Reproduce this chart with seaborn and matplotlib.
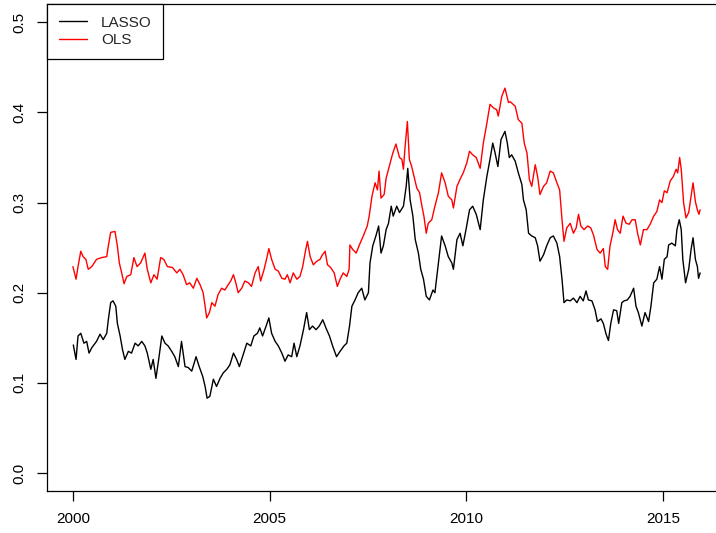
import matplotlib
matplotlib.use("Agg")
import matplotlib.pyplot as plt
import pandas as pd
import seaborn as sns

# Rolling estimates of the two models (decimal year, estimate)
lasso_year = [
    2000.01, 2000.08, 2000.13, 2000.20, 2000.28, 2000.35, 2000.41, 2000.48, 2000.60, 2000.69,
    2000.77, 2000.86, 2000.90, 2000.96, 2001.02, 2001.09, 2001.13, 2001.20, 2001.26, 2001.32,
    2001.41, 2001.49, 2001.58, 2001.66, 2001.75, 2001.83, 2001.89, 2001.98, 2002.04, 2002.11,
    2002.18, 2002.26, 2002.34, 2002.42, 2002.51, 2002.59, 2002.68, 2002.76, 2002.85, 2002.93,
    2003.02, 2003.13, 2003.21, 2003.30, 2003.36, 2003.41, 2003.48, 2003.57, 2003.65, 2003.74,
    2003.82, 2003.91, 2003.99, 2004.08, 2004.16, 2004.23, 2004.31, 2004.42, 2004.52, 2004.60,
    2004.69, 2004.75, 2004.82, 2004.91, 2004.98, 2005.05, 2005.14, 2005.22, 2005.31, 2005.39,
    2005.47, 2005.56, 2005.62, 2005.69, 2005.77, 2005.86, 2005.94, 2006.01, 2006.09, 2006.18,
    2006.26, 2006.35, 2006.43, 2006.52, 2006.60, 2006.70, 2006.79, 2006.89, 2006.96, 2007.03,
    2007.09, 2007.17, 2007.25, 2007.34, 2007.42, 2007.51, 2007.55, 2007.62, 2007.70, 2007.77,
    2007.83, 2007.89, 2007.96, 2008.02, 2008.09, 2008.14, 2008.23, 2008.30, 2008.40, 2008.47,
    2008.51, 2008.57, 2008.64, 2008.70, 2008.78, 2008.84, 2008.91, 2008.98, 2009.06, 2009.15,
    2009.20, 2009.29, 2009.37, 2009.46, 2009.54, 2009.63, 2009.67, 2009.76, 2009.84, 2009.91,
    2009.99, 2010.08, 2010.16, 2010.25, 2010.35, 2010.43, 2010.52, 2010.60, 2010.67, 2010.73,
    2010.80, 2010.88, 2010.98, 2011.04, 2011.09, 2011.15, 2011.24, 2011.32, 2011.41, 2011.45,
    2011.52, 2011.58, 2011.66, 2011.75, 2011.81, 2011.87, 2011.96, 2012.04, 2012.13, 2012.21,
    2012.30, 2012.37, 2012.43, 2012.48, 2012.55, 2012.64, 2012.72, 2012.81, 2012.89, 2012.97,
    2013.04, 2013.10, 2013.19, 2013.27, 2013.33, 2013.42, 2013.48, 2013.55, 2013.61, 2013.67,
    2013.74, 2013.82, 2013.87, 2013.95, 2014.01, 2014.09, 2014.16, 2014.25, 2014.31, 2014.37,
    2014.46, 2014.54, 2014.63, 2014.69, 2014.76, 2014.84, 2014.91, 2014.97, 2015.03, 2015.10,
    2015.14, 2015.22, 2015.31, 2015.35, 2015.41, 2015.46, 2015.50, 2015.57, 2015.65, 2015.71,
    2015.76, 2015.82, 2015.87, 2015.90, 2015.94,
]
lasso_value = [
    0.142, 0.126, 0.152, 0.155, 0.144, 0.146, 0.133, 0.139, 0.146, 0.154,
    0.148, 0.155, 0.170, 0.189, 0.191, 0.185, 0.166, 0.152, 0.137, 0.126,
    0.135, 0.133, 0.144, 0.141, 0.146, 0.141, 0.133, 0.115, 0.126, 0.105,
    0.126, 0.152, 0.144, 0.141, 0.135, 0.129, 0.118, 0.146, 0.118, 0.117,
    0.113, 0.129, 0.118, 0.107, 0.096, 0.083, 0.085, 0.104, 0.096, 0.105,
    0.111, 0.115, 0.120, 0.133, 0.126, 0.118, 0.129, 0.144, 0.141, 0.152,
    0.155, 0.161, 0.152, 0.163, 0.172, 0.155, 0.146, 0.141, 0.133, 0.124,
    0.131, 0.129, 0.144, 0.129, 0.141, 0.159, 0.178, 0.159, 0.163, 0.159,
    0.163, 0.170, 0.161, 0.152, 0.141, 0.129, 0.135, 0.141, 0.144, 0.163,
    0.185, 0.192, 0.200, 0.205, 0.192, 0.200, 0.233, 0.252, 0.263, 0.274,
    0.244, 0.252, 0.270, 0.277, 0.296, 0.285, 0.296, 0.289, 0.296, 0.318,
    0.338, 0.303, 0.285, 0.259, 0.244, 0.226, 0.215, 0.196, 0.192, 0.203,
    0.200, 0.233, 0.263, 0.252, 0.240, 0.233, 0.226, 0.259, 0.266, 0.252,
    0.270, 0.292, 0.296, 0.287, 0.270, 0.303, 0.329, 0.348, 0.366, 0.355,
    0.340, 0.370, 0.379, 0.366, 0.350, 0.353, 0.346, 0.333, 0.320, 0.303,
    0.292, 0.266, 0.263, 0.261, 0.252, 0.235, 0.242, 0.252, 0.261, 0.263,
    0.255, 0.240, 0.215, 0.189, 0.192, 0.191, 0.194, 0.189, 0.196, 0.191,
    0.202, 0.192, 0.191, 0.181, 0.168, 0.171, 0.166, 0.154, 0.147, 0.166,
    0.181, 0.180, 0.166, 0.189, 0.191, 0.192, 0.196, 0.205, 0.185, 0.178,
    0.163, 0.178, 0.168, 0.185, 0.211, 0.215, 0.229, 0.215, 0.237, 0.240,
    0.253, 0.255, 0.252, 0.270, 0.281, 0.270, 0.237, 0.211, 0.226, 0.248,
    0.261, 0.237, 0.229, 0.216, 0.222,
]

ols_year = [
    2000.00, 2000.08, 2000.13, 2000.20, 2000.26, 2000.33, 2000.39, 2000.48, 2000.60, 2000.73,
    2000.86, 2000.90, 2000.96, 2001.07, 2001.13, 2001.18, 2001.24, 2001.30, 2001.37, 2001.47,
    2001.55, 2001.63, 2001.72, 2001.83, 2001.89, 2001.98, 2002.06, 2002.14, 2002.23, 2002.31,
    2002.40, 2002.53, 2002.64, 2002.72, 2002.80, 2002.89, 2002.97, 2003.06, 2003.15, 2003.23,
    2003.31, 2003.36, 2003.40, 2003.47, 2003.53, 2003.61, 2003.69, 2003.78, 2003.86, 2003.95,
    2004.01, 2004.08, 2004.14, 2004.20, 2004.29, 2004.37, 2004.46, 2004.54, 2004.63, 2004.71,
    2004.77, 2004.86, 2004.93, 2004.98, 2005.05, 2005.14, 2005.22, 2005.31, 2005.39, 2005.45,
    2005.52, 2005.60, 2005.69, 2005.77, 2005.84, 2005.90, 2005.96, 2006.03, 2006.11, 2006.20,
    2006.28, 2006.34, 2006.41, 2006.47, 2006.55, 2006.64, 2006.72, 2006.79, 2006.87, 2006.96,
    2007.02, 2007.04, 2007.11, 2007.20, 2007.28, 2007.38, 2007.48, 2007.53, 2007.60, 2007.68,
    2007.74, 2007.78, 2007.83, 2007.91, 2007.96, 2008.04, 2008.13, 2008.21, 2008.30, 2008.36,
    2008.40, 2008.44, 2008.50, 2008.55, 2008.61, 2008.67, 2008.74, 2008.81, 2008.87, 2008.92,
    2008.98, 2009.03, 2009.12, 2009.20, 2009.29, 2009.37, 2009.46, 2009.54, 2009.63, 2009.67,
    2009.76, 2009.84, 2009.92, 2010.01, 2010.08, 2010.16, 2010.25, 2010.35, 2010.43, 2010.52,
    2010.60, 2010.69, 2010.77, 2010.81, 2010.90, 2010.98, 2011.07, 2011.11, 2011.24, 2011.32,
    2011.41, 2011.47, 2011.54, 2011.60, 2011.66, 2011.75, 2011.81, 2011.87, 2011.96, 2012.04,
    2012.13, 2012.21, 2012.30, 2012.37, 2012.43, 2012.48, 2012.55, 2012.64, 2012.72, 2012.79,
    2012.85, 2012.91, 2012.99, 2013.08, 2013.16, 2013.23, 2013.32, 2013.40, 2013.48, 2013.53,
    2013.59, 2013.65, 2013.72, 2013.78, 2013.84, 2013.91, 2013.98, 2014.06, 2014.14, 2014.21,
    2014.29, 2014.35, 2014.42, 2014.50, 2014.59, 2014.67, 2014.76, 2014.84, 2014.91, 2014.97,
    2015.03, 2015.10, 2015.18, 2015.26, 2015.33, 2015.37, 2015.42, 2015.46, 2015.52, 2015.58,
    2015.65, 2015.71, 2015.76, 2015.82, 2015.87, 2015.91, 2015.94,
]
ols_value = [
    0.229, 0.215, 0.229, 0.246, 0.240, 0.237, 0.226, 0.229, 0.237, 0.239,
    0.240, 0.252, 0.267, 0.268, 0.252, 0.233, 0.222, 0.210, 0.218, 0.220,
    0.239, 0.229, 0.233, 0.244, 0.226, 0.211, 0.220, 0.215, 0.239, 0.237,
    0.229, 0.228, 0.222, 0.226, 0.220, 0.209, 0.211, 0.205, 0.216, 0.209,
    0.200, 0.185, 0.172, 0.178, 0.189, 0.185, 0.198, 0.205, 0.203, 0.209,
    0.213, 0.220, 0.211, 0.200, 0.205, 0.213, 0.211, 0.207, 0.222, 0.229,
    0.213, 0.226, 0.239, 0.249, 0.237, 0.226, 0.224, 0.216, 0.215, 0.220,
    0.211, 0.222, 0.215, 0.218, 0.229, 0.244, 0.257, 0.240, 0.231, 0.235,
    0.237, 0.242, 0.246, 0.231, 0.228, 0.222, 0.207, 0.215, 0.222, 0.218,
    0.226, 0.253, 0.248, 0.244, 0.253, 0.263, 0.274, 0.285, 0.307, 0.322,
    0.314, 0.335, 0.305, 0.309, 0.327, 0.340, 0.355, 0.365, 0.350, 0.348,
    0.337, 0.361, 0.390, 0.348, 0.340, 0.329, 0.316, 0.311, 0.296, 0.285,
    0.266, 0.277, 0.281, 0.296, 0.311, 0.333, 0.322, 0.307, 0.303, 0.294,
    0.318, 0.326, 0.333, 0.344, 0.357, 0.353, 0.350, 0.338, 0.366, 0.388,
    0.409, 0.405, 0.403, 0.396, 0.418, 0.427, 0.411, 0.412, 0.407, 0.392,
    0.388, 0.366, 0.355, 0.326, 0.318, 0.342, 0.329, 0.309, 0.318, 0.322,
    0.335, 0.333, 0.322, 0.314, 0.281, 0.257, 0.272, 0.277, 0.266, 0.272,
    0.287, 0.274, 0.270, 0.274, 0.272, 0.264, 0.248, 0.244, 0.249, 0.229,
    0.226, 0.252, 0.266, 0.281, 0.270, 0.266, 0.285, 0.277, 0.276, 0.281,
    0.281, 0.266, 0.253, 0.270, 0.270, 0.276, 0.285, 0.290, 0.303, 0.300,
    0.313, 0.311, 0.324, 0.329, 0.337, 0.333, 0.350, 0.337, 0.300, 0.283,
    0.289, 0.307, 0.322, 0.301, 0.292, 0.287, 0.292,
]

series_names = ["LASSO", "OLS"]
series_colors = ["black", "red"]
x_ticks = [2000, 2005, 2010, 2015]
y_ticks = [0.0, 0.1, 0.2, 0.3, 0.4, 0.5]

df = pd.concat(
    [
        pd.DataFrame({"year": lasso_year, "value": lasso_value, "model": series_names[0]}),
        pd.DataFrame({"year": ols_year, "value": ols_value, "model": series_names[1]}),
    ],
    ignore_index=True,
)

sns.set_theme(style="ticks")
plt.rcParams["font.family"] = ["Liberation Sans", "DejaVu Sans"]
plt.rcParams["axes.edgecolor"] = "black"
plt.rcParams["axes.linewidth"] = 0.9

fig = plt.figure(figsize=(7.16, 5.33), dpi=100)
ax = fig.add_axes([0.0661, 0.0788, 0.948, 0.9131])

sns.lineplot(
    data=df, x="year", y="value", hue="model",
    palette=dict(zip(series_names, series_colors)),
    estimator=None, sort=False, linewidth=1.0, ax=ax,
)

ax.set_xlim(1999.35, 2016.60)
ax.set_ylim(-0.02, 0.52)
ax.set_xticks(x_ticks)
ax.set_xticklabels([str(t) for t in x_ticks])
ax.set_yticks(y_ticks)
ax.set_yticklabels([f"{t:.1f}" for t in y_ticks], rotation=90, va="center")
ax.tick_params(length=7, width=0.9, color="black", labelsize=11,
               labelcolor="black", pad=8)
ax.set_xlabel("")
ax.set_ylabel("")
ax.spines["right"].set_visible(False)

handles, labels = ax.get_legend_handles_labels()
leg = ax.legend(
    handles, labels, loc="upper left", bbox_to_anchor=(0, 1),
    borderaxespad=0, fancybox=False, frameon=True, edgecolor="black",
    framealpha=1, fontsize=11, handlelength=1.85, handletextpad=0.9,
    borderpad=0.75, labelspacing=0.22,
)
leg.get_frame().set_linewidth(0.9)

fig.savefig("out.png", dpi=100)
